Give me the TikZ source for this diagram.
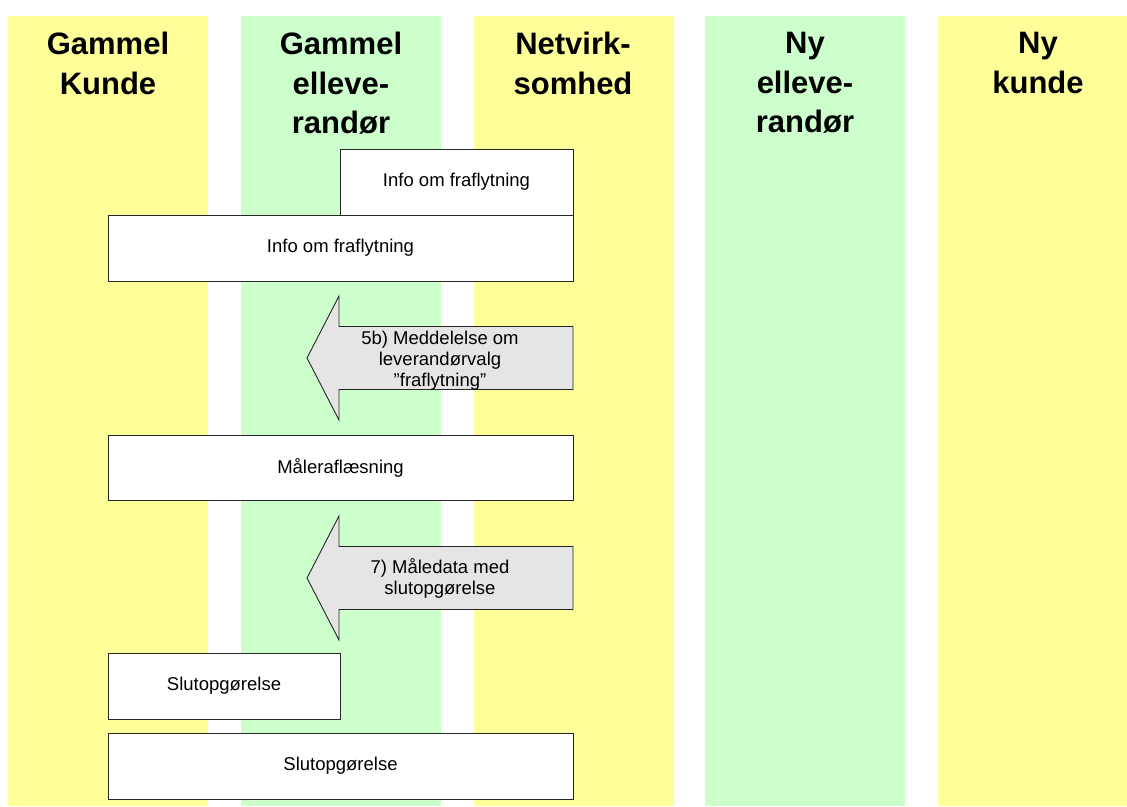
\documentclass[tikz,border=0pt]{standalone}
\usepackage{fontspec}
\setmainfont{Liberation Sans}
\definecolor{laneyellow}{HTML}{FFFF99}
\definecolor{lanegreen}{HTML}{CCFFCC}
\begin{document}
\begin{tikzpicture}[x=1pt, y=-1pt]
      \tikzset{
	  lane/.style={inner sep=0pt, anchor=north, align=center, font=\bfseries\fontsize{31}{39.5}\selectfont},
	  msgbox/.style={draw=black!85, line width=0.9pt, fill=white, inner sep=0pt, font=\fontsize{18.5}{21}\selectfont},
	  bigarrow/.style={draw=black!85, line width=0.9pt, fill=black!10},
	  arrowtext/.style={align=center, inner sep=0pt, font=\fontsize{18.5}{21}\selectfont}
      }
      \useasboundingbox (0,0) rectangle (1127,806);
      % swim lanes
      \foreach \x/\col in {8/laneyellow, 241/lanegreen, 474/laneyellow, 705/lanegreen, 938/laneyellow}
        \fill[\col] (\x,16) rectangle +(200,790);

      \node[lane] (oldcust) at (108,32) {Gammel\\Kunde};
      \node[lane] (oldsup) at (341,32) {Gammel\\elleve-\\randør};
      \node[lane] (grid) at (573,32) {Netvirk-\\somhed};
      \node[lane] (newsup) at (805,32) {Ny\\elleve-\\randør};
      \node[lane] (newcust) at (1038,32) {Ny\\kunde};

      \node[msgbox, minimum width=465, minimum height=66] (info2) at (340.5,248) {Info om fraflytning};
      \node[msgbox, minimum width=233, minimum height=66] (info1) at (456.5,182) {Info om fraflytning};

      \def\msgarrow{+(0,0) -- +(32,-62) -- +(32,-31.5) -- +(266,-31.5) -- +(266,31.5) -- +(32,31.5) -- +(32,62) -- cycle}

      \draw[bigarrow] (307,358) \msgarrow;
      \node[arrowtext] (msg5b) at (440,361) {5b) Meddelelse om\\leverandørvalg\\”fraflytning”};

      \node[msgbox, minimum width=465, minimum height=65] (reading) at (340.5,467.5) {Måleraflæsning};

      \draw[bigarrow] (307,578) \msgarrow;
      \node[arrowtext] (msg7) at (440,578) {7) Måledata med\\slutopgørelse};

      \node[msgbox, minimum width=232, minimum height=66] (final1) at (224,686) {Slutopgørelse};
      \node[msgbox, minimum width=465, minimum height=66] (final2) at (340.5,766) {Slutopgørelse};
\end{tikzpicture}
\end{document}
